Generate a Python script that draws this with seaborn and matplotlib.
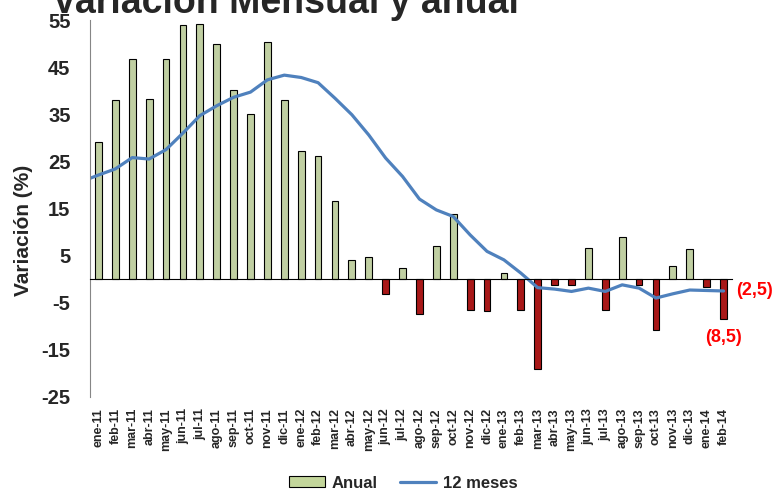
import numpy as np
import pandas as pd
import seaborn as sns
import matplotlib.pyplot as plt
from matplotlib.patches import Patch
from matplotlib.lines import Line2D

# Data
months = ['ene-11', 'feb-11', 'mar-11', 'abr-11', 'may-11', 'jun-11', 'jul-11', 'ago-11',
          'sep-11', 'oct-11', 'nov-11', 'dic-11',
          'ene-12', 'feb-12', 'mar-12', 'abr-12', 'may-12', 'jun-12', 'jul-12', 'ago-12',
          'sep-12', 'oct-12', 'nov-12', 'dic-12',
          'ene-13', 'feb-13', 'mar-13', 'abr-13', 'may-13', 'jun-13', 'jul-13', 'ago-13',
          'sep-13', 'oct-13', 'nov-13', 'dic-13',
          'ene-14', 'feb-14']
anual = [29.1, 38.0, 46.7, 38.2, 46.7, 53.9, 54.1, 50.0, 40.1, 35.0, 50.3, 38.0,
         27.3, 26.2, 16.6, 4.0, 4.8, -3.2, 2.3, -7.4, 7.1, 13.9, -6.6, -6.8,
         1.4, -6.6, -19.0, -1.3, -1.3, 6.6, -6.6, 8.9, -1.3, -10.8, 2.8, 6.4,
         -1.6, -8.5]
# 12 month series starts one month earlier (dic-10), clipped at the axis
doce_meses = [20.7,
              22.1, 23.4, 25.8, 25.5, 27.5, 31.0, 34.7, 36.8, 38.6, 39.7, 42.3, 43.3,
              42.8, 41.7, 38.4, 34.9, 30.6, 25.7, 21.8, 17.0, 14.7, 13.3, 9.4, 5.9,
              4.1, 1.3, -1.8, -2.1, -2.6, -1.9, -2.6, -1.2, -1.9, -4.0, -3.1, -2.3,
              -2.4, -2.5]
yticks = [-25, -15, -5, 5, 15, 25, 35, 45, 55]

green = '#C3D69B'
red = '#C00000'
blue = '#4F81BD'

sns.set_style('white')
plt.rcParams['font.family'] = ['Liberation Sans', 'DejaVu Sans']
plt.rcParams['font.weight'] = 'bold'
plt.rcParams['axes.unicode_minus'] = False

df = pd.DataFrame({'mes': months, 'anual': anual})
df['signo'] = np.where(df['anual'] >= 0, 'pos', 'neg')

fig = plt.figure(figsize=(7.72, 4.91), dpi=100)
ax = fig.add_axes([90 / 772, 1 - 397 / 491, 642 / 772, 377 / 491])

sns.barplot(data=df, x='mes', y='anual', hue='signo', order=months,
            palette={'pos': green, 'neg': red}, dodge=False, width=0.4,
            edgecolor='black', linewidth=0.8, legend=False, ax=ax)
sns.lineplot(x=np.arange(-1, len(months)), y=doce_meses, color=blue, lw=2.3, ax=ax)

ax.set_xlim(-0.5, len(months) - 0.5)
ax.set_ylim(-25, 55)
ax.set_yticks(yticks)
ax.tick_params(axis='y', direction='out', length=5, color='#868686', pad=9, labelsize=14.5)
for lab in ax.get_yticklabels():
    lab.set_fontweight('bold')

sns.despine(ax=ax, top=True, right=True)
ax.spines['left'].set_color('#868686')
ax.spines['bottom'].set_position(('data', 0))
ax.spines['bottom'].set_color('black')
ax.set_xticks(np.arange(-0.5, len(months), 1))
ax.tick_params(axis='x', direction='out', length=5, color='black', labelbottom=False)
ax.set_xlabel('')

# month labels sit below the plot, not on the zero line
sec = ax.secondary_xaxis('bottom')
sec.set_xticks(np.arange(len(months)), labels=months, rotation=90)
sec.spines['bottom'].set_visible(False)
sec.tick_params(length=0, pad=8, labelsize=9)
for lab in sec.get_xticklabels():
    lab.set_fontweight('bold')

ax.set_ylabel('Variación (%)', fontsize=15, fontweight='bold')
ax.yaxis.set_label_coords(-0.089, 0.443)

fig.text(285 / 772, 1 - 13 / 491, 'Variación Mensual y anual', ha='center', va='baseline',
         fontsize=27, fontweight='bold')

# labels on the last values
ax.annotate(f'({abs(doce_meses[-1]):.1f})'.replace('.', ','), xy=(len(months) - 1, doce_meses[-1]),
            xytext=(9, 0), textcoords='offset points', ha='left', va='center',
            color='red', fontsize=13, fontweight='bold', annotation_clip=False)
ax.annotate(f'({abs(anual[-1]):.1f})'.replace('.', ','), xy=(len(months) - 1, anual[-1]),
            xytext=(0, -13), textcoords='offset points', ha='center', va='center',
            color='red', fontsize=13, fontweight='bold', annotation_clip=False)

handles = [Patch(facecolor=green, edgecolor='black', linewidth=0.8, label='Anual'),
           Line2D([0], [0], color=blue, lw=2.3, label='12 meses')]
fig.legend(handles=handles, loc='center', bbox_to_anchor=(403 / 772, 1 - 483 / 491), ncol=2,
           frameon=False, prop={'size': 12, 'weight': 'bold'}, handlelength=2.2,
           handleheight=0.6, columnspacing=1.3, handletextpad=0.4)

fig.savefig('out.png', dpi=100)
